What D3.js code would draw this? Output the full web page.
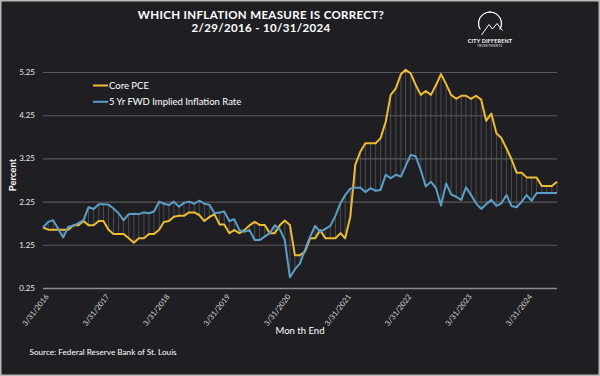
<!DOCTYPE html>
<html>
<head>
<meta charset="utf-8">
<script src="https://cdn.jsdelivr.net/npm/d3@7"></script>
<style>
  body { margin: 0; background: #1f1f23; }
  svg { display: block; }
</style>
</head>
<body>
<svg id="canvas"></svg>
<script>
const corePce = [
  1.65, 1.6, 1.6, 1.6, 1.6, 1.6, 1.7, 1.7, 1.8, 1.7, 1.7, 1.8,
  1.8, 1.6, 1.5, 1.5, 1.5, 1.4, 1.3, 1.4, 1.4, 1.5, 1.5, 1.6,
  1.78, 1.8, 1.9, 1.92, 1.92, 2.0, 2.0, 1.94, 1.8, 1.89, 1.96, 1.72,
  1.72, 1.52, 1.59, 1.52, 1.59, 1.7, 1.78, 1.71, 1.71, 1.52, 1.52, 1.71,
  1.81, 1.71, 1.01, 1.01, 1.09, 1.4, 1.4, 1.59, 1.4, 1.4, 1.4, 1.52,
  1.4, 1.9, 3.1, 3.41, 3.6, 3.6, 3.6, 3.72, 4.1, 4.72, 4.87, 5.2,
  5.3, 5.22, 4.95, 4.72, 4.81, 4.72, 4.95, 5.2, 4.97, 4.72, 4.63, 4.7,
  4.7, 4.63, 4.7, 4.61, 4.12, 4.29, 3.83, 3.72, 3.48, 3.23, 2.92, 2.92,
  2.81, 2.81, 2.81, 2.61, 2.61, 2.61, 2.71
]
const fwdRate = [
  1.65, 1.78, 1.82, 1.62, 1.42, 1.67, 1.69, 1.75, 1.82, 2.12, 2.08, 2.19,
  2.19, 2.18, 2.09, 1.98, 1.82, 1.96, 1.97, 1.96, 2.0, 1.98, 2.02, 2.25,
  2.2, 2.17, 2.25, 2.13, 2.22, 2.25, 2.2, 2.27, 2.2, 2.18, 1.98, 2.0,
  2.02, 1.8, 1.84, 1.59, 1.55, 1.59, 1.36, 1.36, 1.44, 1.52, 1.7, 1.6,
  1.36, 0.5, 0.68, 0.82, 1.13, 1.44, 1.69, 1.55, 1.62, 1.69, 1.92, 2.22,
  2.4, 2.55, 2.57, 2.57, 2.47, 2.56, 2.5, 2.52, 2.87, 2.79, 2.87, 2.83,
  3.07, 3.33, 3.3, 2.98, 2.6, 2.71, 2.56, 2.16, 2.67, 2.42, 2.36, 2.29,
  2.58, 2.4, 2.21, 2.08, 2.19, 2.29, 2.15, 2.21, 2.4, 2.15, 2.12, 2.25,
  2.4, 2.27, 2.45, 2.45, 2.45, 2.45, 2.45
]
const firstMonth = '2/1/2016'
const xTickLabels = ['3/31/2016', '3/31/2017', '3/31/2018', '3/31/2019', '3/31/2020',
                     '3/31/2021', '3/31/2022', '3/31/2023', '3/31/2024']
const yTickValues = [0.25, 1.25, 2.25, 3.25, 4.25, 5.25]
const seriesNames = ['Core PCE', '5 Yr FWD Implied Inflation Rate']
const seriesColors = ['#ecbd34', '#5c9ec6']

const w = 600
const h = 376
const plot = { left: 43, right: 557, top: 72, bottom: 288 }
const parseDate = d3.timeParse('%m/%d/%Y')
const canvas = d3.select('#canvas').attr('width', w).attr('height', h)

// month-end dates for each reading
const start = parseDate(firstMonth)
const dates = corePce.map((_, i) => d3.timeDay.offset(d3.timeMonth.offset(start, i + 1), -1))

const xScale = d3.scaleTime()
                 .domain([dates[0], dates[dates.length - 1]])
                 .range([plot.left, plot.right])
const yScale = d3.scaleLinear()
                 .domain([0.25, 5.25])
                 .range([plot.bottom, plot.top])

canvas.append('rect')
      .attr('x', 0.75).attr('y', 0.75)
      .attr('width', w - 1.5).attr('height', h - 1.5)
      .attr('fill', '#1f1f23')
      .attr('stroke', '#b9b9b9')
      .attr('stroke-width', 1.5)

// title
const title = canvas.append('g')
                    .attr('font-family', 'Lato')
                    .attr('font-weight', 'bold')
                    .attr('font-size', 11.5)
                    .attr('fill', '#ffffff')
                    .attr('text-anchor', 'middle')
title.append('text').attr('x', 261).attr('y', 18.5)
     .attr('letter-spacing', 0.35)
     .text('WHICH INFLATION MEASURE IS CORRECT?')
title.append('text').attr('x', 261).attr('y', 32)
     .attr('letter-spacing', 0.35)
     .text('2/29/2016 - 10/31/2024')

// logo
const logo = canvas.append('g').attr('fill', 'none').attr('stroke', '#ffffff').attr('stroke-width', 1)
logo.append('path')
    .attr('d', d3.arc()({ innerRadius: 11.5, outerRadius: 11.5, startAngle: -2.1, endAngle: 2.1 }))
    .attr('transform', 'translate(490,23.5)')
logo.append('path').attr('d', 'M481.5,35 L489,24.5 L492.5,29 L497,23.5 L502.5,30.5')
canvas.append('text').attr('x', 490).attr('y', 42.5)
      .attr('text-anchor', 'middle').attr('font-family', 'Lato').attr('font-weight', 'bold')
      .attr('font-size', 5.4).attr('letter-spacing', 0.2).attr('fill', '#ffffff').text('CITY DIFFERENT')
canvas.append('text').attr('x', 490).attr('y', 47)
      .attr('text-anchor', 'middle').attr('font-family', 'Lato').attr('font-weight', 'bold')
      .attr('font-size', 2.8).attr('letter-spacing', 0.5).attr('fill', '#cccccc').text('INVESTMENTS')

// y axis with gridlines
const yAxis = d3.axisLeft(yScale)
                .tickValues(yTickValues)
                .tickFormat(d3.format('.2f'))
                .tickSize(-(plot.right - plot.left))
                .tickPadding(8)
canvas.append('g')
      .attr('transform', `translate(${plot.left},0)`)
      .call(yAxis)
      .call(g => g.select('.domain').remove())
      .call(g => g.selectAll('line')
                  .attr('stroke', d => d === 0.25 ? '#8c8c8e' : '#58585c')
                  .attr('stroke-width', d => d === 0.25 ? 1.4 : 1.1))
      .call(g => g.selectAll('text')
                  .attr('fill', '#e6e6e6')
                  .attr('font-family', 'Lato')
                  .attr('font-size', 8))

canvas.append('text')
      .attr('transform', 'translate(16,175) rotate(-90)')
      .attr('text-anchor', 'middle')
      .attr('font-family', 'Lato')
      .attr('font-weight', 'bold')
      .attr('font-size', 9.5)
      .attr('fill', '#ffffff')
      .text('Percent')

// x axis
const xAxis = d3.axisBottom(xScale)
                .tickValues(xTickLabels.map(parseDate))
                .tickFormat(d3.timeFormat('%-m/%-d/%Y'))
                .tickSize(0)
canvas.append('g')
      .attr('transform', `translate(0,${plot.bottom})`)
      .call(xAxis)
      .call(g => g.select('.domain').remove())
      .call(g => g.selectAll('text')
                  .attr('fill', '#d6d6d6')
                  .attr('font-family', 'Lato')
                  .attr('font-size', 7.6)
                  .attr('text-anchor', 'end')
                  .attr('transform', 'translate(-3,6) rotate(-52)')
                  .attr('dy', '0.6em')
                  .attr('y', 0))

canvas.append('text')
      .attr('x', 300).attr('y', 333.5)
      .attr('text-anchor', 'middle')
      .attr('font-family', 'Lato')
      .attr('font-size', 9.5)
      .attr('fill', '#ffffff')
      .text('Mon th End')

// high-low hairlines between the two series
canvas.append('g')
      .selectAll('line')
      .data(dates)
      .enter()
      .append('line')
      .attr('x1', d => xScale(d))
      .attr('x2', d => xScale(d))
      .attr('y1', (_, i) => yScale(corePce[i]))
      .attr('y2', (_, i) => yScale(fwdRate[i]))
      .attr('stroke', '#5e5e63')
      .attr('stroke-width', 0.7)

const line = d3.line()
               .x((_, i) => xScale(dates[i]))
               .y(d => yScale(d))
;[corePce, fwdRate].forEach((series, k) => {
  canvas.append('path')
        .datum(series)
        .attr('d', line)
        .attr('fill', 'none')
        .attr('stroke', seriesColors[k])
        .attr('stroke-width', 2)
        .attr('stroke-linejoin', 'round')
})

// legend
const legend = canvas.append('g')
                     .selectAll('g')
                     .data(seriesNames)
                     .enter()
                     .append('g')
                     .attr('transform', (_, i) => `translate(93,${85.5 + i * 16.3})`)
legend.append('line')
      .attr('x1', 0).attr('x2', 15)
      .attr('stroke', (_, i) => seriesColors[i])
      .attr('stroke-width', 2)
legend.append('text')
      .attr('x', 16).attr('y', 3.3)
      .attr('font-family', 'Lato')
      .attr('font-size', 9.5)
      .attr('fill', '#ffffff')
      .text(d => d)

canvas.append('text')
      .attr('x', 29.5).attr('y', 355)
      .attr('font-family', 'Lato')
      .attr('font-size', 8.2)
      .attr('fill', '#ffffff')
      .text('Source: Federal Reserve Bank of St. Louis')
</script>
</body>
</html>
